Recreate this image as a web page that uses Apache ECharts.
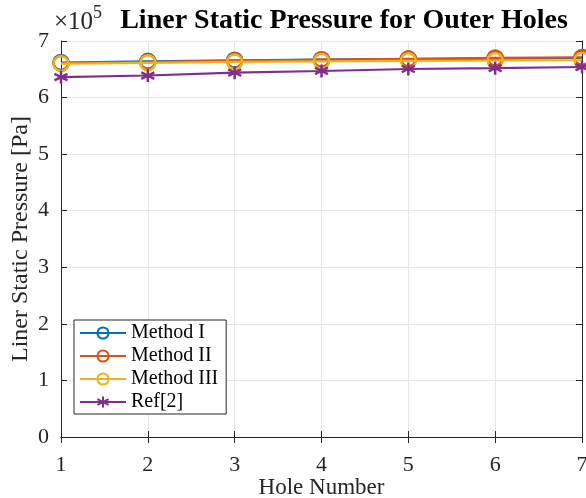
<!DOCTYPE html>
<html><head><meta charset="utf-8">
<script src="https://cdn.jsdelivr.net/npm/echarts@6/dist/echarts.min.js"></script>
<style>html,body{margin:0;padding:0;background:#fff}#c{width:586px;height:498px}</style>
</head><body><div id="c"></div>
<script>
const holes = [1, 2, 3, 4, 5, 6, 7];
const methodI = [662000, 664000, 666000, 667000, 668000, 669000, 670000];
const methodII = [661000, 663000, 665000, 667000, 668500, 670000, 671000];
const methodIII = [660000, 661500, 663000, 664000, 665000, 665500, 666000];
const ref2 = [636000, 639000, 644000, 647000, 650500, 652000, 654000];
const seriesNames = ['Method I', 'Method II', 'Method III', 'Ref[2]'];
const colors = ['#0072BD', '#D95319', '#EDB120', '#7E2F8E'];
const yTicks = [0, 1, 2, 3, 4, 5, 6, 7];

const FONT = 'Liberation Serif';
const star = 'path://M0,-10 L0,10 M-8.66,-5 L8.66,5 M-8.66,5 L8.66,-5';
const ring = 'path://M10,0 A10,10 0 1,1 -10,0 A10,10 0 1,1 10,0 Z';
const pair = (ys) => holes.map((x, i) => [x, ys[i]]);
const allData = [methodI, methodII, methodIII, ref2];

const chart = echarts.init(document.getElementById('c'));
const axisLine = { show: true, lineStyle: { color: '#262626', width: 1 } };
const series = allData.map((d, i) => ({
  name: seriesNames[i], type: 'line', data: pair(d),
  xAxisIndex: 0, yAxisIndex: 0,
  symbol: i === 3 ? star : ring,
  symbolSize: i === 3 ? 13 : 15,
  clip: false,
  lineStyle: { color: colors[i], width: 2.2 },
  itemStyle: { color: 'rgba(0,0,0,0)', borderColor: colors[i], borderWidth: 2.5 },
  z: 3 + i
}));
chart.setOption({
  animation: false,
  backgroundColor: '#fff',
  title: {
    text: 'Liner Static Pressure for Outer Holes',
    left: 339, top: 2, textAlign: 'center',
    textStyle: { fontFamily: FONT, fontWeight: 'bold', fontSize: 28, color: '#000' }
  },
  graphic: [{
    type: 'text', left: 54, top: 4,
    style: {
      text: '{a|×10}{b|5}',
      rich: {
        a: { fontFamily: FONT, fontSize: 25, fill: '#262626', padding: [10, 0, 0, 0] },
        b: { fontFamily: FONT, fontSize: 18, fill: '#262626', padding: [0, 0, 8, 0] }
      }
    }
  }],
  legend: {
    orient: 'vertical', left: 74, top: 320,
    backgroundColor: '#fff', borderColor: '#262626', borderWidth: 1,
    padding: [3, 8, 2, 5], itemGap: 3, itemWidth: 46, itemHeight: 14,
    textStyle: { fontFamily: FONT, fontSize: 20, color: '#000' },
    data: seriesNames
  },
  grid: { left: 61, right: 4, top: 41, bottom: 61, containLabel: false, outerBoundsMode: 'none' },
  xAxis: [{
    type: 'value', min: 1, max: 7, interval: 1,
    name: 'Hole Number', nameLocation: 'middle', nameGap: 39, nameMoveOverlap: false,
    nameTextStyle: { fontFamily: FONT, fontSize: 23, color: '#262626' },
    axisLine: axisLine,
    axisTick: { show: true, inside: true, length: 6, lineStyle: { color: '#262626' } },
    axisLabel: { fontFamily: FONT, fontSize: 22, color: '#262626', margin: 17 },
    splitLine: { show: true, lineStyle: { color: '#e6e6e6', width: 1 } }
  }, {
    type: 'value', min: 1, max: 7, interval: 1, position: 'top',
    axisLine: axisLine,
    axisTick: { show: true, inside: true, length: 6, lineStyle: { color: '#262626' } },
    axisLabel: { show: false }, splitLine: { show: false }
  }],
  yAxis: [{
    type: 'value', min: 0, max: 700000, interval: 100000,
    name: 'Liner Static Pressure [Pa]', nameLocation: 'middle', nameGap: 28, nameMoveOverlap: false,
    nameTextStyle: { fontFamily: FONT, fontSize: 24, color: '#262626' },
    axisLine: axisLine,
    axisTick: { show: true, inside: true, length: 6, lineStyle: { color: '#262626' } },
    axisLabel: { fontFamily: FONT, fontSize: 22, color: '#262626', margin: 12,
      formatter: (v) => String(yTicks[Math.round(v / 100000)]) },
    splitLine: { show: true, lineStyle: { color: '#e6e6e6', width: 1 } }
  }, {
    type: 'value', min: 0, max: 700000, interval: 100000, position: 'right',
    axisLine: axisLine,
    axisTick: { show: true, inside: true, length: 6, lineStyle: { color: '#262626' } },
    axisLabel: { show: false }, splitLine: { show: false }
  }],
  series: series
});
</script></body></html>
